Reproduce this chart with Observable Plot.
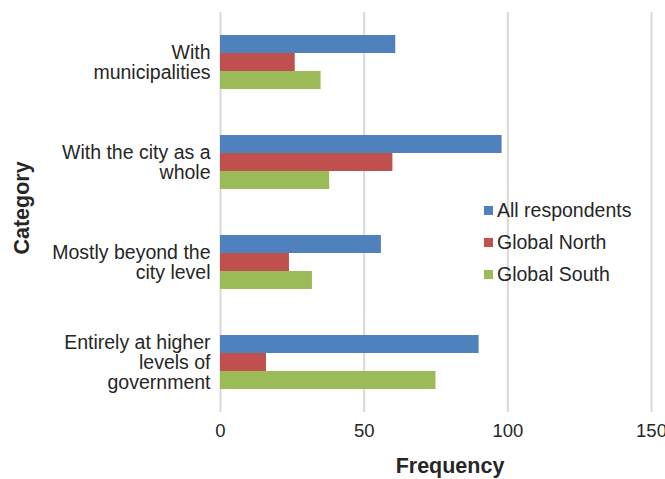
<!DOCTYPE html>
<html><head><meta charset="utf-8">
<script src="https://cdn.jsdelivr.net/npm/d3@7"></script>
<script src="https://cdn.jsdelivr.net/npm/@observablehq/plot@0.6"></script>
<style>
body{margin:0;background:#fff;}
#wrap{position:relative;width:665px;height:479px;font-family:"Liberation Sans",Arial,Helvetica,sans-serif;color:#262626;overflow:hidden;}
#wrap svg{position:absolute;left:0;top:0;}
.lab{position:absolute;font-weight:bold;font-size:21.5px;white-space:nowrap;}
#ylab{left:22px;top:208px;transform:translate(-50%,-50%) rotate(-90deg);}
#xlab{left:450px;top:466px;transform:translate(-50%,-50%);}
#legend{position:absolute;left:484px;top:194px;font-size:19.5px;}
#legend .row{height:32px;display:flex;align-items:center;white-space:nowrap;}
#legend .sw{width:9px;height:9px;margin-right:4px;margin-top:1px;}
</style></head><body><div id="wrap"></div>
<script>
const categories = ["With municipalities", "With the city as a whole", "Mostly beyond the city level", "Entirely at higher levels of government"];
const categoryLabels = ["With\nmunicipalities", "With the city as a\nwhole", "Mostly beyond the\ncity level", "Entirely at higher\nlevels of\ngovernment"];
const series = ["All respondents", "Global North", "Global South"];
const allRespondents = [61, 98, 56, 90];
const globalNorth = [26, 60, 24, 16];
const globalSouth = [35, 38, 32, 75];
const colors = ["#4f81bd", "#c0504d", "#9bbb59"];
const xTicks = [0, 50, 100, 150];
const xLabel = "Frequency";
const yLabel = "Category";

const valuesBySeries = [allRespondents, globalNorth, globalSouth];
const data = [];
categories.forEach((c, i) => {
  series.forEach((s, j) => data.push({category: c, series: s, value: valuesBySeries[j][i]}));
});

const chart = Plot.plot({
  width: 665, height: 479,
  marginLeft: 220, marginRight: 14, marginTop: 12, marginBottom: 67,
  style: {fontFamily: '"Liberation Sans", Arial, Helvetica, sans-serif', fontSize: "18.5px", color: "#262626", background: "transparent"},
  x: {domain: [0, 150], ticks: xTicks, label: null},
  y: {domain: series, paddingInner: 0, paddingOuter: 1.16, axis: null},
  fy: {domain: categories, padding: 0, label: null},
  color: {domain: series, range: colors},
  marks: [
    Plot.gridX(xTicks, {stroke: "#d9d9d9", strokeOpacity: 1, strokeWidth: 2}),
    Plot.barX(data, {fy: "category", y: "series", x: "value", fill: "series"}),
    Plot.axisX(xTicks, {tickSize: 0, tickPadding: 11, label: null, fontSize: 18.5}),
    Plot.axisFy({anchor: "left", tickSize: 0, tickPadding: 10, label: null, fontSize: 19.5, lineHeight: 1.04,
      tickFormat: c => categoryLabels[categories.indexOf(c)]})
  ]
});

const wrap = document.getElementById("wrap");
wrap.appendChild(chart);

const yl = document.createElement("div"); yl.className = "lab"; yl.id = "ylab"; yl.textContent = yLabel; wrap.appendChild(yl);
const xl = document.createElement("div"); xl.className = "lab"; xl.id = "xlab"; xl.textContent = xLabel; wrap.appendChild(xl);

const lg = document.createElement("div"); lg.id = "legend";
series.forEach((s, i) => {
  const row = document.createElement("div"); row.className = "row";
  const sw = document.createElement("span"); sw.className = "sw"; sw.style.background = colors[i];
  const t = document.createElement("span"); t.textContent = s;
  row.appendChild(sw); row.appendChild(t); lg.appendChild(row);
});
wrap.appendChild(lg);
</script></body></html>
